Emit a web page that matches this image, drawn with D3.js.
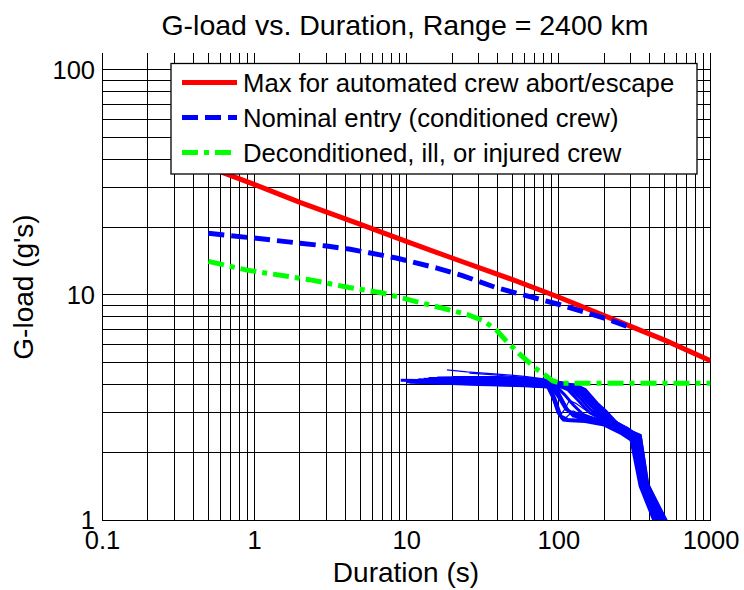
<!DOCTYPE html>
<html><head><meta charset="utf-8">
<script src="https://cdn.jsdelivr.net/npm/d3@7"></script>
<style>
html,body{margin:0;padding:0;background:#fff;}
svg{display:block;font-family:"Liberation Sans",Arial,Helvetica,sans-serif;}
</style></head><body>
<svg id="chart" width="744" height="590"></svg>
<script>
// ---- text ----
const titleText = "G-load vs. Duration, Range = 2400 km";
const xLabelText = "Duration (s)";
const yLabelText = "G-load (g's)";
const xTickValues = [0.1, 1, 10, 100, 1000];
const xTickLabels = ["0.1", "1", "10", "100", "1000"];
const yTickValues = [1, 10, 100];
const yTickLabels = ["1", "10", "100"];
const seriesNames = [
  "Max for automated crew abort/escape",
  "Nominal entry (conditioned crew)",
  "Deconditioned, ill, or injured crew"
];

// ---- limit curves: duration (s) and sustained g ----
const maxAbortDuration = [0.5, 1, 2, 5, 10, 20, 50, 100, 200, 500, 1000];
const maxAbortG        = [37, 31, 25.8, 20.6, 17.3, 14.6, 11.7, 9.8, 8.1, 6.3, 5.1];

const nominalDuration = [0.5, 1, 2, 3, 4.2, 5.7, 8.6, 15.7, 23.4, 38.7, 50, 100, 200, 300];
const nominalG        = [18.8, 17.9, 17.0, 16.5, 16.0, 15.4, 14.6, 13.2, 12.2, 10.8, 10.3, 9.1, 7.9, 7.15];

const deconDuration = [0.5, 0.9, 2.3, 4.2, 7, 11.6, 19, 25, 32, 39, 45, 55, 70, 82, 92, 105, 1000];
const deconG        = [14.1, 12.9, 11.7, 10.8, 10.2, 9.35, 8.6, 8.2, 7.7, 7.0, 6.3, 5.5, 4.75, 4.4, 4.15, 4.05, 4.05];

// ---- simulated entry trajectories: [duration (s), g] ----
const trajectories = [
  [[10.5,4.1],[30,4.0],[60,3.95],[85,3.9],[92,3.5],[100,3.0],[108,2.78],[120,2.76],[150,2.74],[200,2.64],[260,2.42],[300,2.27],[345,1.41],[423,1.0],[470,0.9]],
  [[11,4.15],[30,4.05],[60,3.98],[88,3.92],[96,3.4],[104,2.9],[115,2.8],[150,2.77],[200,2.66],[260,2.45],[310,2.28],[350,1.42],[440,1.0],[490,0.9]],
  [[12,4.2],[30,4.12],[60,4.06],[90,3.95],[100,3.7],[110,3.2],[125,2.9],[160,2.78],[200,2.7],[265,2.48],[315,2.3],[355,1.43],[455,1.0],[505,0.9]],
  [[9.2,4.18],[30,4.14],[60,4.08],[95,3.98],[110,3.6],[125,3.25],[145,2.95],[175,2.8],[210,2.72],[270,2.5],[320,2.32],[360,1.43],[470,1.0],[520,0.9]],
  [[13,4.22],[30,4.16],[60,4.1],[95,4.0],[115,3.8],[135,3.4],[160,3.0],[190,2.82],[220,2.74],[275,2.52],[325,2.33],[365,1.44],[480,1.0],[530,0.9]],
  [[14,4.25],[30,4.25],[60,4.2],[100,4.05],[120,3.9],[140,3.6],[165,3.2],[195,2.9],[230,2.76],[280,2.55],[330,2.34],[370,1.44],[490,1.0],[540,0.9]],
  [[16,4.28],[30,4.3],[60,4.27],[100,4.1],[125,3.97],[145,3.75],[170,3.35],[200,3.0],[240,2.7],[285,2.55],[335,2.36],[378,1.45],[500,1.0],[550,0.9]],
  [[12.5,4.15],[30,4.1],[60,4.06],[100,4.0],[130,3.98],[150,3.8],[180,3.3],[205,3.05],[245,2.68],[290,2.5],[345,2.38],[385,1.45],[510,1.0],[560,0.9]],
  [[11.5,4.12],[30,4.07],[60,4.03],[92,3.93],[104,3.5],[116,3.05],[135,2.85],[170,2.78],[215,2.7],[268,2.47],[318,2.31],[358,1.43],[462,1.0],[512,0.9]],
  [[15,4.24],[30,4.19],[60,4.13],[98,4.01],[118,3.85],[138,3.5],[162,3.1],[192,2.86],[225,2.75],[278,2.53],[328,2.34],[368,1.44],[485,1.0],[535,0.9]],
  [[20,4.3],[40,4.3],[70,4.22],[100,4.06],[122,3.94],[142,3.68],[168,3.28],[198,2.95],[235,2.73],[283,2.55],[333,2.35],[374,1.45],[495,1.0],[545,0.9]],
  [[10,4.12],[30,4.02],[60,3.97],[90,3.9],[102,3.45],[112,3.1],[130,2.95],[165,2.85],[205,2.72],[262,2.46],[312,2.29],[352,1.42],[448,1.0],[498,0.9]]
];
const thinTrajectories = [
  [[18.5,4.65],[25,4.55],[40,4.45],[60,4.35],[85,4.22],[110,4.08],[135,3.98],[155,3.7],[185,3.2],[210,2.9],[260,2.6],[300,2.45],[350,2.38],[392,1.45],[505,1.0],[560,0.9]],
  [[26,4.5],[40,4.4],[60,4.3],[90,4.15],[115,4.05],[140,3.9],[165,3.5],[195,3.1],[230,2.8],[280,2.55],[340,2.4],[388,1.45],[495,1.0],[550,0.9]],
  [[40,4.25],[70,4.15],[86,3.95],[92,3.45],[98,3.0],[105,2.8],[112,2.85],[125,3.05],[140,2.95],[170,2.8],[210,2.7],[260,2.5],[310,2.3],[352,1.42],[445,1.0],[500,0.9]],
  [[50,4.2],[80,4.1],[90,3.7],[96,3.25],[104,2.95],[110,3.1],[118,3.4],[130,3.3],[160,3.0],[200,2.75],[260,2.5],[315,2.32],[358,1.43],[460,1.0],[510,0.9]]
];

// ---- layout ----
const svg = d3.select("#chart");
const plotLeft = 102, plotRight = 710.5, plotTop = 53, plotBottom = 520;
const x = d3.scaleLog().domain([0.1, 1000]).range([plotLeft, plotRight]);
const y = d3.scaleLog().domain([1, 119]).range([plotBottom, plotTop]);

// minor + major grid values
const xGrid = [];
[0.1, 1, 10, 100].forEach(d => { for (let k = 1; k < 10; k++) xGrid.push(d * k); });
xGrid.push(1000);
const yGrid = [];
[1, 10].forEach(d => { for (let k = 1; k < 10; k++) yGrid.push(d * k); });
yGrid.push(100);

const grid = svg.append("g").attr("stroke", "#000").attr("stroke-width", 1).attr("shape-rendering", "crispEdges");
grid.selectAll("line.v").data(xGrid).join("line").attr("class", "v")
  .attr("x1", d => x(d)).attr("x2", d => x(d)).attr("y1", plotTop).attr("y2", plotBottom);
grid.selectAll("line.h").data(yGrid).join("line").attr("class", "h")
  .attr("x1", plotLeft).attr("x2", plotRight).attr("y1", d => y(d)).attr("y2", d => y(d));

// tick labels via axes
const xAxis = svg.append("g").attr("transform", `translate(0,${plotBottom})`)
  .call(d3.axisBottom(x).tickValues(xTickValues).tickSize(0).tickPadding(11)
    .tickFormat((d, i) => xTickLabels[i]));
xAxis.select(".domain").remove();
xAxis.selectAll("text").attr("font-size", 25.5).attr("fill", "#000")
  .attr("font-family", '"Liberation Sans",Arial,sans-serif');

const yAxis = svg.append("g").attr("transform", `translate(${plotLeft},0)`)
  .call(d3.axisLeft(y).tickValues(yTickValues).tickSize(0).tickPadding(7)
    .tickFormat((d, i) => yTickLabels[i]));
yAxis.select(".domain").remove();
yAxis.selectAll("text").attr("font-size", 25.5).attr("fill", "#000")
  .attr("font-family", '"Liberation Sans",Arial,sans-serif');

// clip for data
svg.append("clipPath").attr("id", "plotClip").append("rect")
  .attr("x", plotLeft).attr("y", plotTop).attr("width", plotRight - plotLeft).attr("height", plotBottom - plotTop);
const plot = svg.append("g").attr("clip-path", "url(#plotClip)");

const line = d3.line().x(d => x(d[0])).y(d => y(d[1]));

// trajectories
plot.selectAll("path.traj").data(trajectories).join("path").attr("class", "traj")
  .attr("d", line).attr("fill", "none").attr("stroke", "#0000ff").attr("stroke-width", 3);
plot.selectAll("path.thin").data(thinTrajectories).join("path").attr("class", "thin")
  .attr("d", line).attr("fill", "none").attr("stroke", "#0000ff").attr("stroke-width", 1.2);

// limit curves
const zip = (a, b) => a.map((v, i) => [v, b[i]]);
const limits = [
  { pts: zip(maxAbortDuration, maxAbortG), color: "#ff0000", dash: null },
  { pts: zip(nominalDuration, nominalG), color: "#0000ff", dash: "16,7" },
  { pts: zip(deconDuration, deconG), color: "#00ff00", dash: "16,6,5,6" }
];
plot.selectAll("path.limit").data(limits).join("path").attr("class", "limit")
  .attr("d", d => line(d.pts)).attr("fill", "none")
  .attr("stroke", d => d.color).attr("stroke-width", 5)
  .attr("stroke-dasharray", d => d.dash);

// legend
const lg = svg.append("g");
lg.append("rect").attr("x", 171).attr("y", 63.5).attr("width", 526).attr("height", 110.5)
  .attr("fill", "#fff").attr("stroke", "#000").attr("stroke-width", 1.3);
const rowY = [82.5, 117.5, 152.5];
limits.forEach((s, i) => {
  lg.append("line").attr("x1", 182).attr("x2", 237).attr("y1", rowY[i]).attr("y2", rowY[i])
    .attr("stroke", s.color).attr("stroke-width", 5).attr("stroke-dasharray", s.dash);
  lg.append("text").attr("x", 243).attr("y", rowY[i] + 9.5).attr("font-size", 25.7)
    .attr("fill", "#000").text(seriesNames[i]);
});

// titles
svg.append("text").attr("x", 405).attr("y", 35).attr("text-anchor", "middle")
  .attr("font-size", 28.5).attr("fill", "#000").text(titleText);
svg.append("text").attr("x", 406).attr("y", 582).attr("text-anchor", "middle")
  .attr("font-size", 28).attr("fill", "#000").text(xLabelText);
svg.append("text").attr("transform", "translate(33,287) rotate(-90)").attr("text-anchor", "middle")
  .attr("font-size", 28).attr("fill", "#000").text(yLabelText);
</script>
</body></html>
